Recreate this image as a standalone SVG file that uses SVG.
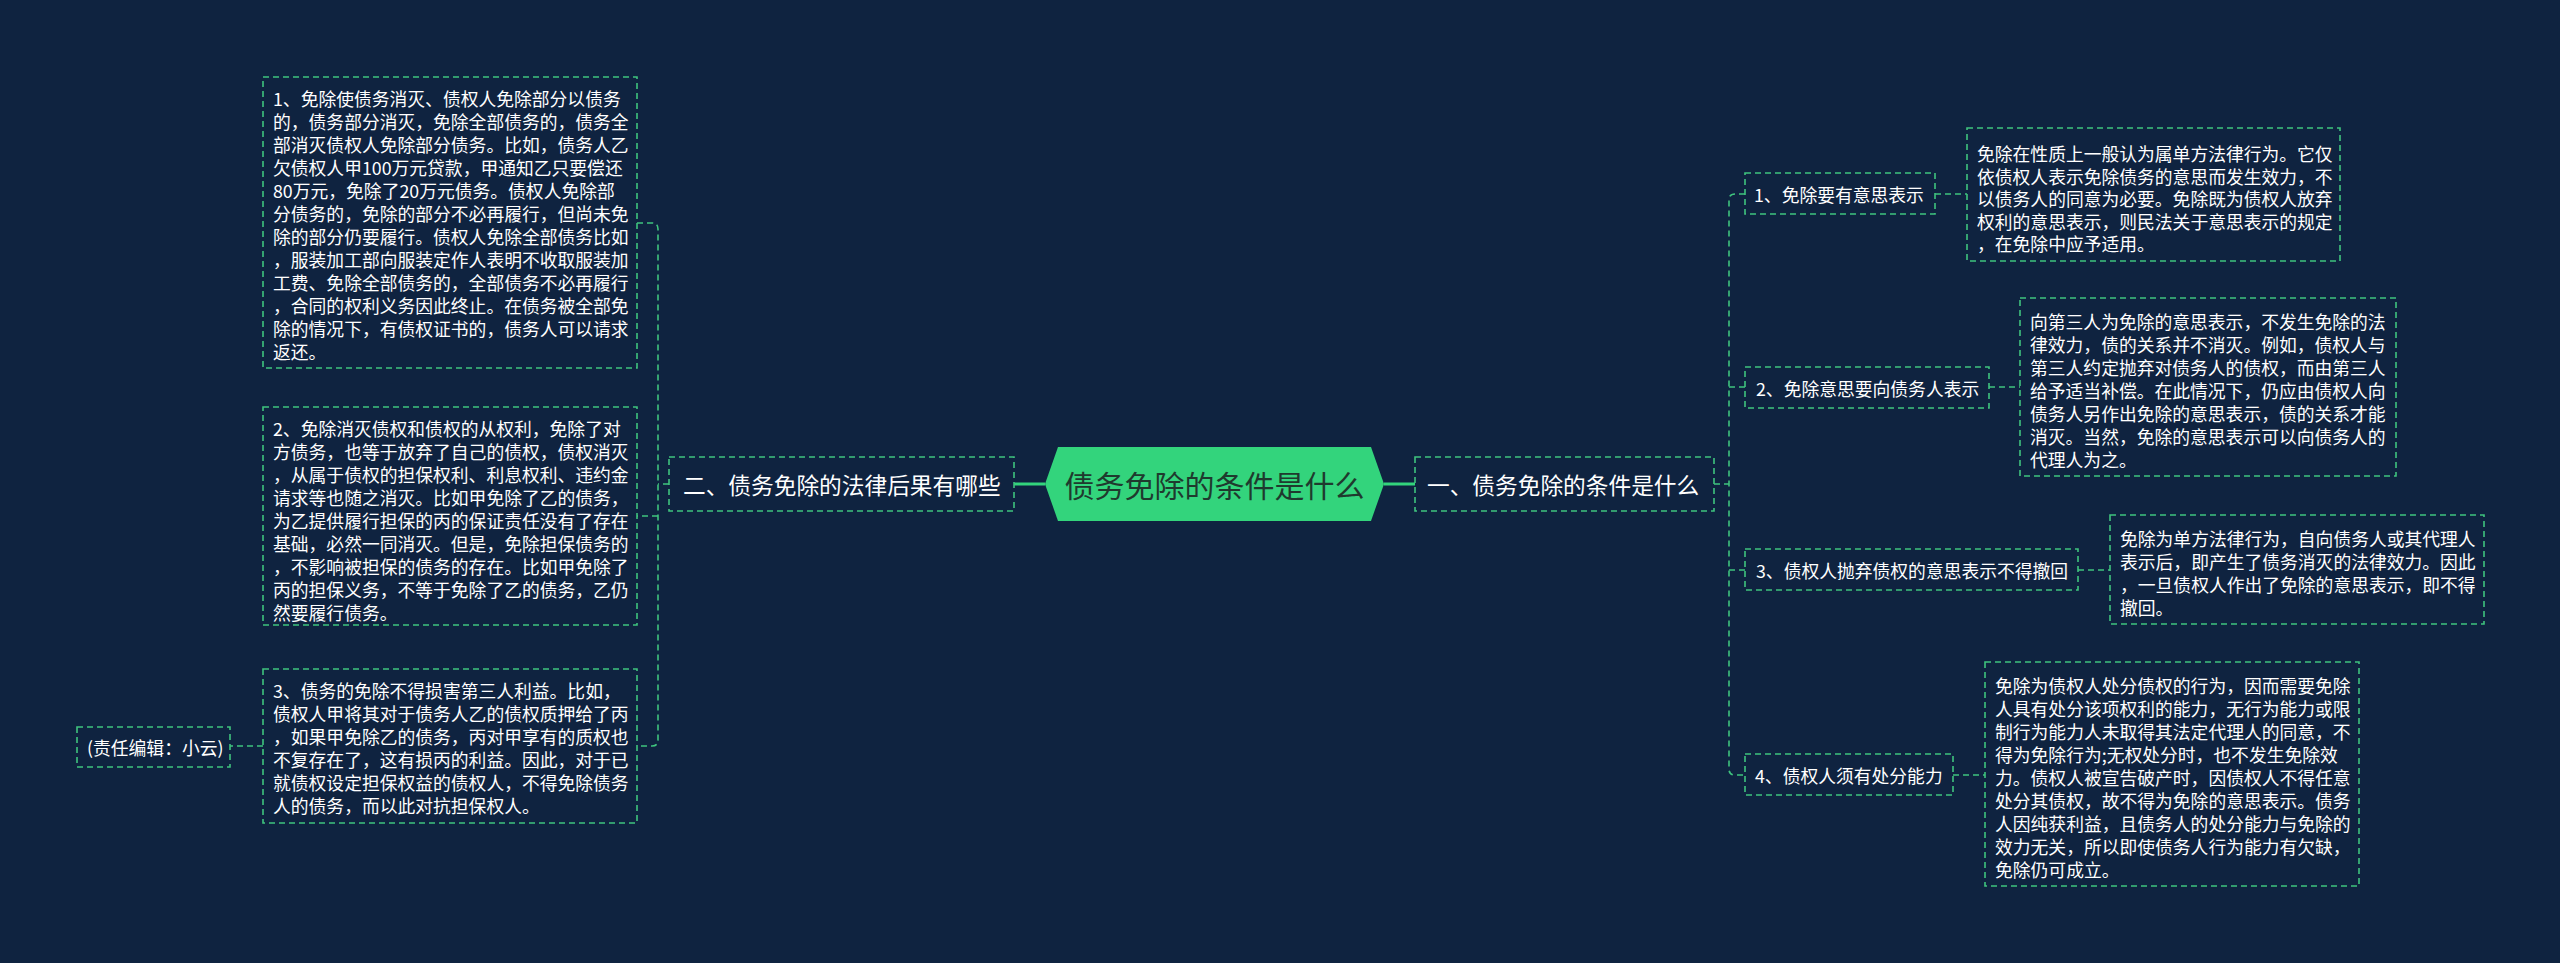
<svg xmlns="http://www.w3.org/2000/svg" width="2560" height="963" viewBox="0 0 2560 963">
<style>
.bg{fill:#0f2340}
.box{fill:none;stroke:#3fc47e;stroke-width:1.6;stroke-dasharray:6 4}
.con{fill:none;stroke:#3fc47e;stroke-width:1.6;stroke-dasharray:6 4}
.solid{fill:none;stroke:#33d47c;stroke-width:3}
.t{font-family:"Noto Sans CJK SC","Noto Sans",sans-serif;fill:#ffffff;font-size:17.8px;dominant-baseline:central}
.l1{font-size:22.7px}
.c{font-family:"Noto Sans CJK SC","Noto Sans",sans-serif;fill:#1f3a2e;font-size:30px;dominant-baseline:central;text-anchor:middle}
</style>
<rect class="bg" x="0" y="0" width="2560" height="963"/>
<g id="connectors">
<path class="solid" d="M1014 484 H1045"/>
<path class="solid" d="M1384 484 H1415"/>
<path class="con" d="M669 484 H658"/>
<path class="con" d="M637 223 H652 Q658 223 658 229 V740 Q658 746 652 746 H637"/>
<path class="con" d="M658 516 H637"/>
<path class="con" d="M263 746 H230"/>
<path class="con" d="M1714 484 H1729"/>
<path class="con" d="M1745 194 H1735 Q1729 194 1729 200 V769 Q1729 775 1735 775 H1745"/>
<path class="con" d="M1729 387 H1745"/>
<path class="con" d="M1729 570 H1745"/>
<path class="con" d="M1935 194 H1967"/>
<path class="con" d="M1989 387 H2020"/>
<path class="con" d="M2078 570 H2110"/>
<path class="con" d="M1953 775 H1985"/>
</g>
<g id="center">
<polygon points="1045,484 1058,447 1371,447 1384,484 1371,521 1058,521" fill="#33d47c"/>
<text class="c" x="1214.5" y="484">债务免除的条件是什么</text>
</g>
<g id="branch-left">
<rect class="box" x="669" y="457" width="345" height="54"/>
<text class="t l1" x="683" y="484">二、债务免除的法律后果有哪些</text>
</g>
<g id="left-1">
<rect class="box" x="263" y="77" width="374" height="291"/>
<text class="t" x="273">
<tspan x="273" y="98">1、免除使债务消灭、债权人免除部分以债务</tspan>
<tspan x="273" y="121">的，债务部分消灭，免除全部债务的，债务全</tspan>
<tspan x="273" y="144">部消灭债权人免除部分债务。比如，债务人乙</tspan>
<tspan x="273" y="167">欠债权人甲100万元贷款，甲通知乙只要偿还</tspan>
<tspan x="273" y="190">80万元，免除了20万元债务。债权人免除部</tspan>
<tspan x="273" y="213">分债务的，免除的部分不必再履行，但尚未免</tspan>
<tspan x="273" y="236">除的部分仍要履行。债权人免除全部债务比如</tspan>
<tspan x="273" y="259">，服装加工部向服装定作人表明不收取服装加</tspan>
<tspan x="273" y="282">工费、免除全部债务的，全部债务不必再履行</tspan>
<tspan x="273" y="305">，合同的权利义务因此终止。在债务被全部免</tspan>
<tspan x="273" y="328">除的情况下，有债权证书的，债务人可以请求</tspan>
<tspan x="273" y="351">返还。</tspan>
</text>
</g>
<g id="left-2">
<rect class="box" x="263" y="407" width="374" height="218"/>
<text class="t" x="273">
<tspan x="273" y="428">2、免除消灭债权和债权的从权利，免除了对</tspan>
<tspan x="273" y="451">方债务，也等于放弃了自己的债权，债权消灭</tspan>
<tspan x="273" y="474">，从属于债权的担保权利、利息权利、违约金</tspan>
<tspan x="273" y="497">请求等也随之消灭。比如甲免除了乙的债务，</tspan>
<tspan x="273" y="520">为乙提供履行担保的丙的保证责任没有了存在</tspan>
<tspan x="273" y="543">基础，必然一同消灭。但是，免除担保债务的</tspan>
<tspan x="273" y="566">，不影响被担保的债务的存在。比如甲免除了</tspan>
<tspan x="273" y="589">丙的担保义务，不等于免除了乙的债务，乙仍</tspan>
<tspan x="273" y="612">然要履行债务。</tspan>
</text>
</g>
<g id="left-3">
<rect class="box" x="263" y="669" width="374" height="154"/>
<text class="t" x="273">
<tspan x="273" y="690">3、债务的免除不得损害第三人利益。比如，</tspan>
<tspan x="273" y="713">债权人甲将其对于债务人乙的债权质押给了丙</tspan>
<tspan x="273" y="736">，如果甲免除乙的债务，丙对甲享有的质权也</tspan>
<tspan x="273" y="759">不复存在了，这有损丙的利益。因此，对于已</tspan>
<tspan x="273" y="782">就债权设定担保权益的债权人，不得免除债务</tspan>
<tspan x="273" y="805">人的债务，而以此对抗担保权人。</tspan>
</text>
</g>
<g id="editor">
<rect class="box" x="77" y="727" width="153" height="40"/>
<text class="t" x="87" y="747">(责任编辑：小云)</text>
</g>
<g id="branch-right">
<rect class="box" x="1415" y="457" width="299" height="54"/>
<text class="t l1" x="1427" y="484">一、债务免除的条件是什么</text>
</g>
<g id="right-1">
<rect class="box" x="1745" y="173" width="190" height="41"/>
<text class="t" x="1754" y="194">1、免除要有意思表示</text>
</g>
<g id="right-1-detail">
<rect class="box" x="1967" y="128" width="373" height="133"/>
<text class="t">
<tspan x="1977" y="153">免除在性质上一般认为属单方法律行为。它仅</tspan>
<tspan x="1977" y="175.5">依债权人表示免除债务的意思而发生效力，不</tspan>
<tspan x="1977" y="198">以债务人的同意为必要。免除既为债权人放弃</tspan>
<tspan x="1977" y="220.5">权利的意思表示，则民法关于意思表示的规定</tspan>
<tspan x="1977" y="243">，在免除中应予适用。</tspan>
</text>
</g>
<g id="right-2">
<rect class="box" x="1745" y="367" width="244" height="41"/>
<text class="t" x="1756" y="387.5">2、免除意思要向债务人表示</text>
</g>
<g id="right-2-detail">
<rect class="box" x="2020" y="298" width="376" height="178"/>
<text class="t">
<tspan x="2030" y="321">向第三人为免除的意思表示，不发生免除的法</tspan>
<tspan x="2030" y="344">律效力，债的关系并不消灭。例如，债权人与</tspan>
<tspan x="2030" y="367">第三人约定抛弃对债务人的债权，而由第三人</tspan>
<tspan x="2030" y="390">给予适当补偿。在此情况下，仍应由债权人向</tspan>
<tspan x="2030" y="413">债务人另作出免除的意思表示，债的关系才能</tspan>
<tspan x="2030" y="436">消灭。当然，免除的意思表示可以向债务人的</tspan>
<tspan x="2030" y="459">代理人为之。</tspan>
</text>
</g>
<g id="right-3">
<rect class="box" x="1745" y="549" width="333" height="41"/>
<text class="t" x="1756" y="569.5">3、债权人抛弃债权的意思表示不得撤回</text>
</g>
<g id="right-3-detail">
<rect class="box" x="2110" y="515" width="374" height="109"/>
<text class="t">
<tspan x="2120" y="538">免除为单方法律行为，自向债务人或其代理人</tspan>
<tspan x="2120" y="561">表示后，即产生了债务消灭的法律效力。因此</tspan>
<tspan x="2120" y="584">，一旦债权人作出了免除的意思表示，即不得</tspan>
<tspan x="2120" y="607">撤回。</tspan>
</text>
</g>
<g id="right-4">
<rect class="box" x="1745" y="754" width="208" height="41"/>
<text class="t" x="1755" y="774.5">4、债权人须有处分能力</text>
</g>
<g id="right-4-detail">
<rect class="box" x="1985" y="662" width="374" height="224"/>
<text class="t">
<tspan x="1995" y="685">免除为债权人处分债权的行为，因而需要免除</tspan>
<tspan x="1995" y="708">人具有处分该项权利的能力，无行为能力或限</tspan>
<tspan x="1995" y="731">制行为能力人未取得其法定代理人的同意，不</tspan>
<tspan x="1995" y="754">得为免除行为;无权处分时，也不发生免除效</tspan>
<tspan x="1995" y="777">力。债权人被宣告破产时，因债权人不得任意</tspan>
<tspan x="1995" y="800">处分其债权，故不得为免除的意思表示。债务</tspan>
<tspan x="1995" y="823">人因纯获利益，且债务人的处分能力与免除的</tspan>
<tspan x="1995" y="846">效力无关，所以即使债务人行为能力有欠缺，</tspan>
<tspan x="1995" y="869">免除仍可成立。</tspan>
</text>
</g>
</svg>
